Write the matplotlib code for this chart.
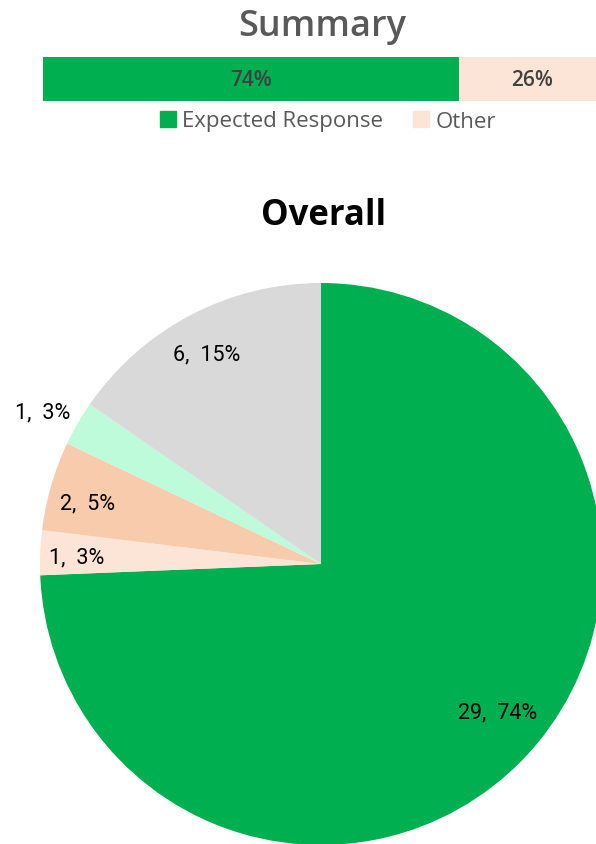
import matplotlib
matplotlib.use("Agg")
import matplotlib.pyplot as plt
import numpy as np

# Summary bar data
summary_labels = ["Expected Response", "Other"]
summary_values = [74, 26]
summary_colors = ["#00B050", "#FCE4D6"]

# Pie data
pie_values = [29, 1, 2, 1, 6]
pie_pcts = ["74%", "3%", "5%", "3%", "15%"]
pie_colors = ["#00B050", "#FCE4D6", "#F8CBAD", "#BDFBDA", "#D9D9D9"]
label_dist = [0.82, 0.87, 0.86, 1.13, 0.85]
label_ang_shift = [3.9, 0.7, 1.4, 1.3, 0.8]

W, H = 596, 845
fig = plt.figure(figsize=(W / 100, H / 100), dpi=100)

def fx(px):
    return px / W

def fy(py):
    return 1 - py / H

# Summary title
fig.text(fx(322), fy(27), "Summary", ha="center", va="center", fontsize=26,
         fontweight="semibold", color="#595959", family="Open Sans")

# Summary bar
axb = fig.add_axes([fx(43), fy(102), fx(553), (102 - 58) / H])
left = 0
total = sum(summary_values)
for v, c in zip(summary_values, summary_colors):
    axb.barh(0, v / total, left=left, color=c, height=1.0, edgecolor="none")
    axb.text(left + v / total / 2, 0, f"{v}%", ha="center", va="center",
             fontsize=15, fontweight="semibold", color="#404040", family="Open Sans")
    left += v / total
axb.set_xlim(0, 553 / 562)
axb.set_ylim(-0.5, 0.5)
axb.axis("off")

# Legend
handles = [plt.Rectangle((0, 0), 1, 1, color=c) for c in summary_colors]
fig.legend(handles, summary_labels, loc="center", bbox_to_anchor=(fx(328), fy(122)),
           ncol=2, frameon=False, handlelength=0.7, handleheight=0.7,
           handletextpad=0.3, columnspacing=1.35, labelcolor="#595959",
           prop={"family": "Open Sans", "size": 16})

# Overall title
fig.text(fx(324), fy(216), "Overall", ha="center", va="center", fontsize=25,
         fontweight="bold", color="black", family="Open Sans")

# Pie
R = 281
cx, cy = 321, 565
axp = fig.add_axes([fx(cx - R), fy(cy + R), 2 * R / W, 2 * R / H])
wedges, _ = axp.pie(pie_values, colors=pie_colors, startangle=90, counterclock=False,
                    radius=1, wedgeprops=dict(edgecolor="none"))
for w, v, p, d, s in zip(wedges, pie_values, pie_pcts, label_dist, label_ang_shift):
    ang = np.deg2rad((w.theta1 + w.theta2) / 2 + s)
    axp.text(d * np.cos(ang), d * np.sin(ang), f"{v},\u2002{p}", ha="center", va="center",
             fontsize=15.5, color="black", family=["Roboto", "DejaVu Sans"])
axp.set_xlim(-1, 1)
axp.set_ylim(-1, 1)
axp.set_aspect("equal")
axp.axis("off")
for w in wedges:
    w.set_clip_on(False)

fig.savefig("out.png", dpi=100)
